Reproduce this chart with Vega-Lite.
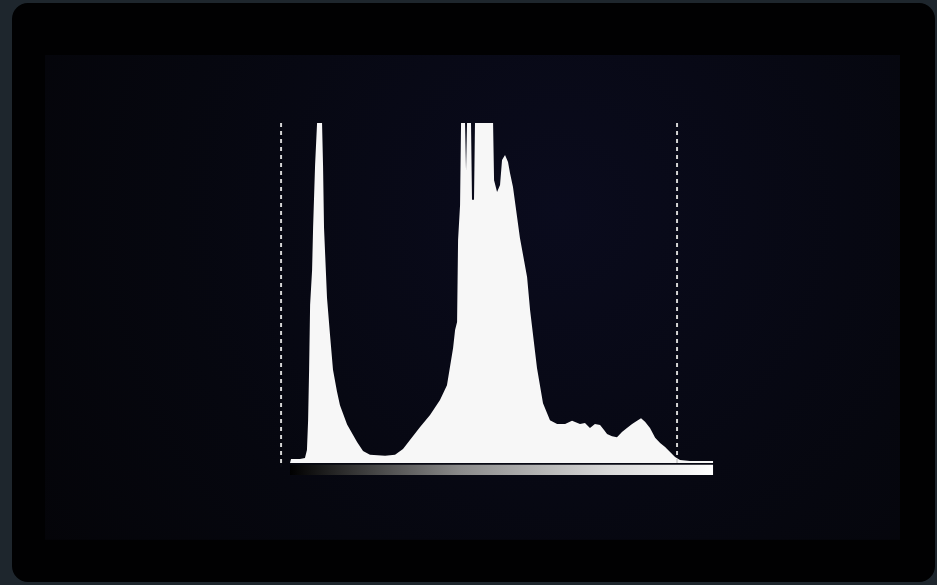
{
  "$schema": "https://vega.github.io/schema/vega-lite/v6.json",
  "width": 937,
  "height": 585,
  "autosize": {"type": "fit", "contains": "padding"},
  "padding": {"left": 12, "top": 3, "right": 2, "bottom": 3},
  "background": "#1e262d",
  "config": {"view": {"fill": "#010102", "stroke": null, "cornerRadius": 16}},
  "datasets": {
    "hist": [
      {"level": 0, "count": 0},
      {"level": 0.6, "count": 1.2},
      {"level": 6.0, "count": 1.2},
      {"level": 9.0, "count": 1.5},
      {"level": 10.2, "count": 3.8},
      {"level": 10.9, "count": 12.6},
      {"level": 11.5, "count": 27.4},
      {"level": 12.1, "count": 46.5},
      {"level": 13.3, "count": 56.8},
      {"level": 13.9, "count": 69.1},
      {"level": 15.1, "count": 87.6},
      {"level": 16.3, "count": 100},
      {"level": 19.3, "count": 100},
      {"level": 19.9, "count": 87.6},
      {"level": 20.5, "count": 69.1},
      {"level": 22.3, "count": 48.5},
      {"level": 24.1, "count": 37.7},
      {"level": 25.9, "count": 27.4},
      {"level": 28.3, "count": 21.0},
      {"level": 30.1, "count": 17.0},
      {"level": 34.4, "count": 11.3},
      {"level": 40.4, "count": 6.2},
      {"level": 44.0, "count": 3.5},
      {"level": 48.2, "count": 2.4},
      {"level": 57.3, "count": 2.1},
      {"level": 63.3, "count": 2.4},
      {"level": 68.1, "count": 4.1},
      {"level": 72.3, "count": 6.8},
      {"level": 78.4, "count": 10.6},
      {"level": 84.4, "count": 14.1},
      {"level": 90.4, "count": 18.5},
      {"level": 94.6, "count": 22.9},
      {"level": 98.3, "count": 33.8},
      {"level": 99.5, "count": 39.1},
      {"level": 100.7, "count": 41.5},
      {"level": 101.3, "count": 65.6},
      {"level": 102.5, "count": 75.9},
      {"level": 103.1, "count": 100},
      {"level": 105.5, "count": 100},
      {"level": 106.1, "count": 86},
      {"level": 106.7, "count": 100},
      {"level": 109.1, "count": 100},
      {"level": 109.7, "count": 77.4},
      {"level": 110.9, "count": 77.4},
      {"level": 111.5, "count": 100},
      {"level": 122.4, "count": 100},
      {"level": 123.0, "count": 83.2},
      {"level": 124.8, "count": 79.7},
      {"level": 126.6, "count": 81.8},
      {"level": 127.8, "count": 89.1},
      {"level": 129.6, "count": 90.6},
      {"level": 131.4, "count": 88.5},
      {"level": 132.6, "count": 85.3},
      {"level": 134.4, "count": 81.2},
      {"level": 138.6, "count": 66.2},
      {"level": 142.9, "count": 54.7},
      {"level": 144.7, "count": 45.0},
      {"level": 148.9, "count": 27.9},
      {"level": 152.5, "count": 17.6},
      {"level": 156.7, "count": 12.6},
      {"level": 161.0, "count": 11.5},
      {"level": 165.8, "count": 11.5},
      {"level": 170.0, "count": 12.4},
      {"level": 174.8, "count": 11.5},
      {"level": 177.8, "count": 11.8},
      {"level": 180.8, "count": 10.3},
      {"level": 183.8, "count": 11.5},
      {"level": 186.9, "count": 11.2},
      {"level": 189.3, "count": 9.7},
      {"level": 191.1, "count": 8.5},
      {"level": 194.1, "count": 7.9},
      {"level": 197.1, "count": 7.6},
      {"level": 200.1, "count": 9.1},
      {"level": 203.1, "count": 10.3},
      {"level": 206.2, "count": 11.5},
      {"level": 209.2, "count": 12.4},
      {"level": 211.6, "count": 13.2},
      {"level": 214.0, "count": 12.1},
      {"level": 217.0, "count": 10.3},
      {"level": 220.1, "count": 7.4},
      {"level": 223.1, "count": 5.9},
      {"level": 226.1, "count": 4.7},
      {"level": 229.1, "count": 3.2},
      {"level": 232.1, "count": 1.8},
      {"level": 235.1, "count": 0.9},
      {"level": 241.1, "count": 0.6},
      {"level": 255, "count": 0.6}
    ],
    "clip": [
      {"level": -5.4, "lo": 0, "hi": 100},
      {"level": 233.3, "lo": 0, "hi": 100}
    ],
    "bar": [
      {"from": 0, "to": 255, "lo": -3.5, "hi": -0.5}
    ],
    "glow": [
      {"from": -147.7, "to": 367.7, "lo": -22.6, "hi": 120}
    ]
  },
  "layer": [
    {
      "data": {"name": "glow"},
      "mark": {"type": "rect", "fill": {"gradient": "radial", "x1": 0.6, "y1": 0.4, "r1": 0, "x2": 0.6, "y2": 0.4, "r2": 0.75, "stops": [{"offset": 0, "color": "#0a0b1d"}, {"offset": 0.6, "color": "#06070f"}, {"offset": 1, "color": "#040408"}]}},
      "encoding": {
        "x": {"field": "from", "type": "quantitative", "scale": {"domain": [-167.6, 388.8], "nice": false, "zero": false}, "axis": null},
        "x2": {"field": "to"},
        "y": {"field": "lo", "type": "quantitative", "scale": {"domain": [-35.0, 135.3], "nice": false, "zero": false}, "axis": null},
        "y2": {"field": "hi"}
      }
    },
    {
      "data": {"name": "bar"},
      "mark": {"type": "rect", "fill": {"gradient": "linear", "x1": 0, "y1": 0, "x2": 1, "y2": 0, "stops": [{"offset": 0, "color": "#000000"}, {"offset": 0.12, "color": "#2a2a2a"}, {"offset": 0.4, "color": "#8a8a8a"}, {"offset": 0.75, "color": "#d8d8d8"}, {"offset": 1, "color": "#ffffff"}]}},
      "encoding": {
        "x": {"field": "from", "type": "quantitative", "scale": {"domain": [-167.6, 388.8], "nice": false, "zero": false}, "axis": null},
        "x2": {"field": "to"},
        "y": {"field": "lo", "type": "quantitative", "scale": {"domain": [-35.0, 135.3], "nice": false, "zero": false}, "axis": null},
        "y2": {"field": "hi"}
      }
    },
    {
      "data": {"name": "hist"},
      "mark": {"type": "area", "color": "#f7f7f7", "interpolate": "linear"},
      "encoding": {
        "x": {"field": "level", "type": "quantitative", "scale": {"domain": [-167.6, 388.8], "nice": false, "zero": false}, "axis": null},
        "y": {"field": "count", "type": "quantitative", "scale": {"domain": [-35.0, 135.3], "nice": false, "zero": false}, "axis": null}
      }
    },
    {
      "data": {"name": "clip"},
      "mark": {"type": "rule", "color": "#d4d4d4", "strokeWidth": 2, "strokeDash": [4, 4]},
      "encoding": {
        "x": {"field": "level", "type": "quantitative", "scale": {"domain": [-167.6, 388.8], "nice": false, "zero": false}, "axis": null},
        "y": {"field": "lo", "type": "quantitative", "scale": {"domain": [-35.0, 135.3], "nice": false, "zero": false}, "axis": null},
        "y2": {"field": "hi"}
      }
    }
  ]
}
